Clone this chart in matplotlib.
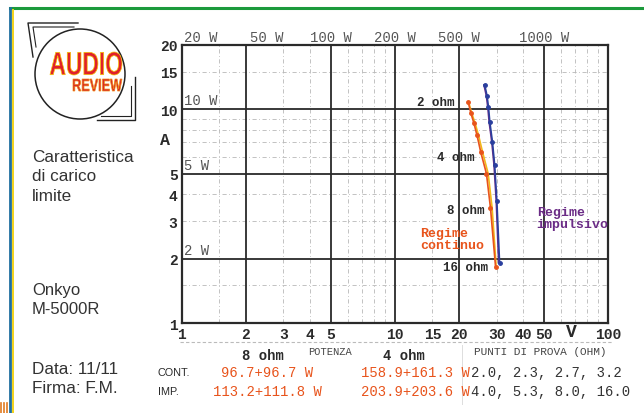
import matplotlib
matplotlib.use('Agg')
import matplotlib.pyplot as plt
from matplotlib.patches import Circle, PathPatch
from matplotlib.textpath import TextPath
from matplotlib.font_manager import FontProperties
from matplotlib.transforms import Affine2D, blended_transform_factory
from matplotlib.ticker import NullFormatter

# punti di prova (ohm) e valori: tensione (V) e corrente (A)
ohm_points = [2.0, 2.3, 2.7, 3.2, 4.0, 5.3, 8.0, 16.0]
cont_v_a = [22.1, 22.7, 23.5, 24.3, 25.3, 26.9, 28.1, 29.7]
cont_v_b = [22.2, 22.9, 23.8, 24.7, 25.8, 27.4, 28.6, 29.9]
cont_i = [10.8, 9.65, 8.6, 7.55, 6.3, 5.0, 3.45, 1.82]
imp_v_a = [26.4, 27.1, 27.5, 27.9, 28.7, 29.4, 30.1, 31.0]
imp_v_b = [26.2, 26.9, 27.3, 27.7, 28.5, 29.2, 29.9, 30.7]
imp_i = [13.0, 11.5, 10.2, 8.72, 7.03, 5.47, 3.73, 1.91]

# assi
x_ticks = [1, 2, 3, 4, 5, 10, 15, 20, 30, 40, 50, 100]
y_ticks = [1, 2, 3, 4, 5, 10, 15, 20]
x_major_grid = [2, 5, 10, 20, 50]
y_major_grid = [2, 5, 10]
minor_grid = [1.5, 3, 4, 6, 7, 8, 9, 15, 30, 40, 60, 70, 80, 90]

# etichette di potenza
top_watt = [20, 50, 100, 200, 500, 1000]
top_watt_ha = ['left', 'center', 'center', 'center', 'right', 'center']
left_watt = [10, 5, 2]

# etichette dei punti (ohm) e posizione (V, A)
ohm_labels = ['2 ohm', '4 ohm', '8 ohm', '16 ohm']
ohm_label_v = [19.1, 23.7, 26.4, 27.3]
ohm_label_i = [10.8, 6.0, 3.37, 1.83]

# tabella in basso
col_heads = ['8 ohm', '4 ohm']
row_names = ['CONT.', 'IMP.']
pot_8 = ['96.7+96.7 W', '113.2+111.8 W']
pot_4 = ['158.9+161.3 W', '203.9+203.6 W']
test_points = ['2.0, 2.3, 2.7, 3.2', '4.0, 5.3, 8.0, 16.0']

mono = 'Liberation Mono'
sans = 'Liberation Sans'
c_cont = '#e8541c'
c_cont2 = '#f2b81a'
c_imp = '#2a3f9e'
c_imp2 = '#6b2c86'
txt = '#2a2a2a'

fig = plt.figure(figsize=(6.44, 4.14), dpi=100)

# livello decorativo in pixel
deco = fig.add_axes([0, 0, 1, 1], zorder=-1)
deco.set_xlim(0, 644)
deco.set_ylim(414, 0)
deco.axis('off')

deco.plot([10, 644], [9, 9], color='#1c9a3c', lw=2.2)
deco.plot([10, 10], [9, 414], color='#1f6fa0', lw=2.0)
deco.plot([13, 13], [11, 414], color='#f2d21a', lw=1.4)
for xx in [1, 4, 7]:
    deco.plot([xx, xx], [404, 414], color='#e07a20', lw=1.2)

# logo
deco.add_patch(Circle((80, 75), 45, fill=False, ec='#222', lw=1.1))
deco.plot([78, 28, 33], [24, 24, 58], color='#222', lw=1.0)
deco.plot([74, 33, 36], [28, 28, 48], color='#222', lw=0.8)
deco.plot([135, 135, 97], [78, 121, 121], color='#222', lw=1.0)
deco.plot([131, 131, 101], [87, 117, 117], color='#222', lw=0.8)


def logo_text(s, box, fc, ec):
    x0, y0, x1, y1 = box
    tp = TextPath((0, 0), s, size=10, prop=FontProperties(family=sans, weight='bold'))
    ext = tp.get_extents()
    sx = (x1 - x0) / ext.width
    sy = (y1 - y0) / ext.height
    tr = Affine2D().translate(-ext.x0, -ext.y0).scale(sx, -sy).translate(x0, y1) + deco.transData
    deco.add_patch(PathPatch(tp, transform=tr, fc=fc, ec=ec, lw=0.5))


logo_text('AUDIO', (50, 53, 122, 76), '#e0202a', '#f5c400')
logo_text('REVIEW', (73, 80, 122, 92), '#d8282a', '#f08a10')

deco.text(32, 177, 'Caratteristica\ndi carico\nlimite', fontsize=12.3, family=sans,
          color='#333', va='center', linespacing=1.4)
deco.text(32, 300, 'Onkyo\nM-5000R', fontsize=12, family=sans, color='#333',
          va='center', linespacing=1.4)
deco.text(32, 379, 'Data: 11/11\nFirma: F.M.', fontsize=12.3, family=sans, color='#333',
          va='center', linespacing=1.3)

# tabella
deco.plot([180, 612], [343, 343], color='#bbb', lw=0.8, ls=(0, (3, 2)))
deco.plot([462, 462], [346, 405], color='#ddd', lw=0.7)
deco.text(263, 356, col_heads[0], family=mono, weight='bold', fontsize=10,
          color=txt, ha='center', va='center')
deco.text(404, 356, col_heads[1], family=mono, weight='bold', fontsize=10,
          color=txt, ha='center', va='center')
deco.text(330, 352, 'POTENZA', family=mono, fontsize=7.5, color='#444',
          ha='center', va='center')
deco.text(540, 352, 'PUNTI DI PROVA (OHM)', family=mono, fontsize=8, color='#444',
          ha='center', va='center')
for k, yy in enumerate([373, 392]):
    deco.text(158, yy, row_names[k], family=sans, fontsize=7.8, color=txt, va='center')
    deco.text(267, yy, pot_8[k], family=mono, fontsize=10, color=c_cont,
              ha='center', va='center')
    deco.text(470, yy, pot_4[k], family=mono, fontsize=10, color=c_cont,
              ha='right', va='center')
    deco.text(471, yy, test_points[k], family=mono, fontsize=10, color='#333',
              ha='left', va='center')

# grafico principale
ax = fig.add_axes([181.7 / 644, 1 - 324 / 414, (608 - 181.7) / 644, (324 - 46) / 414])
ax.set_xscale('log')
ax.set_yscale('log')
ax.set_xlim(1, 100)
ax.set_ylim(1, 20)

for v in minor_grid:
    if v < 100:
        ax.axvline(v, color='#b8b8b8', lw=0.6, ls=(0, (5, 3, 1, 3)), zorder=1)
    if v < 20:
        ax.axhline(v, color='#b8b8b8', lw=0.6, ls=(0, (5, 3, 1, 3)), zorder=1)
for v in x_major_grid:
    ax.axvline(v, color='#2a2a2a', lw=1.3, zorder=2)
for v in y_major_grid:
    ax.axhline(v, color='#2a2a2a', lw=1.3, zorder=2)

for s in ax.spines.values():
    s.set_linewidth(1.6)
    s.set_color('#2a2a2a')

ax.set_xticks(x_ticks)
ax.set_xticklabels([str(t) for t in x_ticks])
ax.set_yticks(y_ticks)
ax.set_yticklabels([str(t) for t in y_ticks])
ax.xaxis.set_minor_formatter(NullFormatter())
ax.yaxis.set_minor_formatter(NullFormatter())
ax.tick_params(which='both', length=0)
ax.tick_params(axis='x', pad=3)
ax.tick_params(axis='y', pad=3)
for lab in ax.get_xticklabels() + ax.get_yticklabels():
    lab.set_family(mono)
    lab.set_weight('bold')
    lab.set_fontsize(10.5)
    lab.set_color(txt)

bx = blended_transform_factory(ax.transData, ax.transAxes)
by = blended_transform_factory(ax.transAxes, ax.transData)
ax.text(67, -0.032, 'V', transform=bx, family=mono, weight='bold', fontsize=13,
        color=txt, ha='center', va='center')
ax.text(-0.04, 7.2, 'A', transform=by, family=mono, weight='bold', fontsize=12,
        color=txt, ha='center', va='center')

# etichette potenza
for p, ha in zip(top_watt, top_watt_ha):
    ax.text(p / 20 * (1.03 if ha == 'left' else 1), 20.3, f'{p} W', family=mono,
            fontsize=10, color='#555', ha=ha, va='bottom', clip_on=False)
for p in left_watt:
    ax.text(1.03, p * 1.02, f'{p} W', family=mono, fontsize=10, color='#555',
            ha='left', va='bottom')

# curve
ax.plot(cont_v_b, cont_i, color=c_cont2, lw=1.2, zorder=4)
ax.plot(cont_v_a, cont_i, color=c_cont, lw=1.2, marker='o', ms=2.5, zorder=5)
ax.plot(imp_v_b, imp_i, color=c_imp2, lw=1.2, zorder=4)
ax.plot(imp_v_a, imp_i, color=c_imp, lw=1.2, marker='o', ms=2.5, zorder=5)

for s, v, i in zip(ohm_labels, ohm_label_v, ohm_label_i):
    ax.text(v, i, s, family=mono, weight='bold', fontsize=9, color=txt,
            ha='right', va='center', zorder=6)
ax.text(13.1, 2.47, 'Regime\ncontinuo', family=mono, weight='bold', fontsize=9.5,
        color=c_cont, ha='left', va='center', linespacing=1.0, zorder=6)
ax.text(46.3, 3.09, 'Regime\nimpulsivo', family=mono, weight='bold', fontsize=9.5,
        color=c_imp2, ha='left', va='center', linespacing=1.0, zorder=6)

fig.savefig('out.png', dpi=100, facecolor='white')
